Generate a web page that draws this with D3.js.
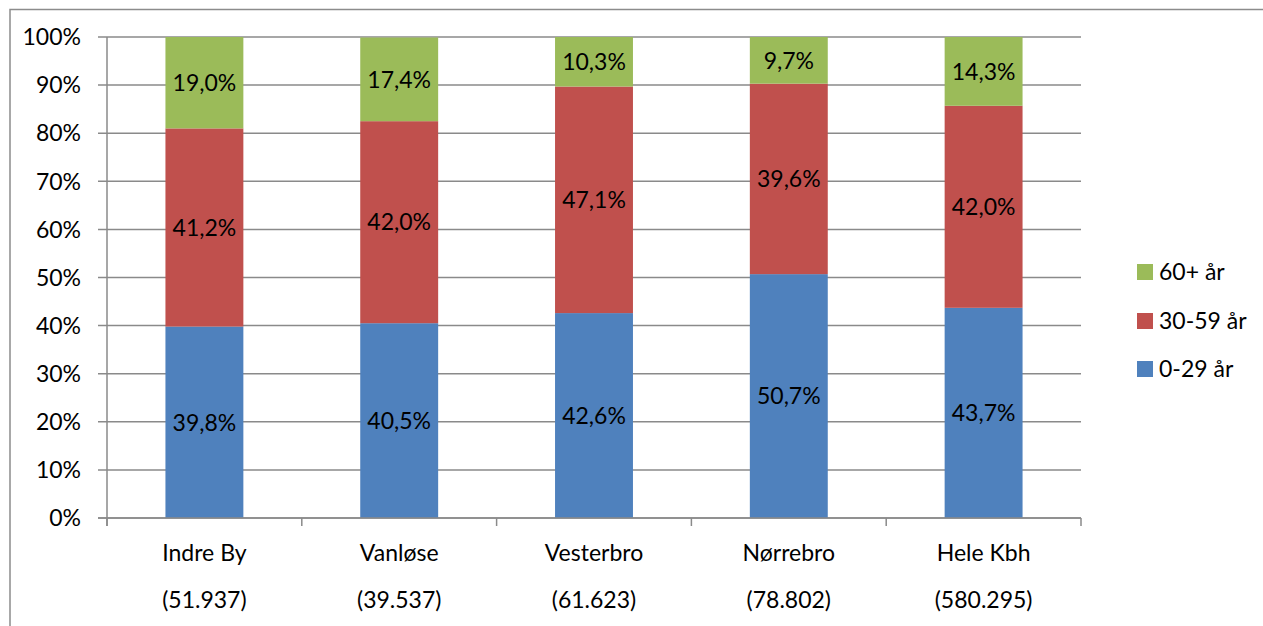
<!DOCTYPE html>
<html><head><meta charset="utf-8">
<script src="https://cdn.jsdelivr.net/npm/d3@7"></script>
<style>body{margin:0;background:#fff;}svg{display:block;font-family:Lato,"Open Sans",sans-serif;}</style>
</head><body>
<svg id="c" width="1263" height="626"></svg>
<script>
const categories = ["Indre By","Vanløse","Vesterbro","Nørrebro","Hele Kbh"];
const populations = ["(51.937)","(39.537)","(61.623)","(78.802)","(580.295)"];
const seriesNames = ["0-29 år","30-59 år","60+ år"];
const young = [39.8, 40.5, 42.6, 50.7, 43.7];
const middle = [41.2, 42.0, 47.1, 39.6, 42.0];
const old = [19.0, 17.4, 10.3, 9.7, 14.3];
const colors = ["#4F81BD","#C0504D","#9BBB59"];
const yTicks = [0,10,20,30,40,50,60,70,80,90,100];
const FS = 23;

const svg = d3.select("#c");
svg.append("rect").attr("x",10).attr("y",9.5).attr("width",1263).attr("height",640)
  .attr("fill","none").attr("stroke","#8c8c8c").attr("stroke-width",1.5);

const L=107, R=1081, T=37, B=518;
const x = d3.scaleBand().domain(categories).range([L,R]).paddingInner(0.6).paddingOuter(0.3);
const xb = d3.scaleBand().domain(categories).range([L,R]);
const y = d3.scaleLinear().domain([0,100]).range([B,T]);

svg.append("g").selectAll("line").data(yTicks).join("line")
  .attr("x1",98).attr("x2",R).attr("y1",d=>y(d)).attr("y2",d=>y(d))
  .attr("stroke","#8a8a8a").attr("stroke-width",1.5);
svg.append("g").selectAll("text").data(yTicks).join("text")
  .attr("x",81).attr("y",d=>y(d)).attr("dy","0.36em").attr("text-anchor","end")
  .attr("font-size",FS).attr("fill","#000").text(d=>d+"%");

const valuesBySeries = {"0-29 år":young,"30-59 år":middle,"60+ år":old};
const data = categories.map((c,i)=>({cat:c,idx:i,"0-29 år":young[i],"30-59 år":middle[i],"60+ år":old[i]}));
const stack = d3.stack().keys(seriesNames)(data);
const g = svg.append("g");
stack.forEach((s,si)=>{
  const key = seriesNames[si];
  g.selectAll(null).data(s).join("rect")
    .attr("x",d=>x(d.data.cat)).attr("width",x.bandwidth())
    .attr("y",d=>y(Math.min(d[1],100))).attr("height",d=>y(d[0])-y(Math.min(d[1],100)))
    .attr("fill",colors[si]);
  g.selectAll(null).data(s).join("text")
    .attr("x",d=>x(d.data.cat)+x.bandwidth()/2).attr("y",d=>y((d[0]+Math.min(d[1],100))/2)).attr("dy","0.36em")
    .attr("text-anchor","middle").attr("font-size",FS).attr("fill","#000")
    .text(d=>valuesBySeries[key][d.data.idx].toFixed(1).replace(".",",")+"%");
});

svg.append("line").attr("x1",L).attr("x2",L).attr("y1",T).attr("y2",B+8).attr("stroke","#8a8a8a").attr("stroke-width",1.5);
svg.append("line").attr("x1",98).attr("x2",R).attr("y1",B).attr("y2",B).attr("stroke","#8a8a8a").attr("stroke-width",1.5);
const bounds = categories.map(c=>xb(c)+xb.bandwidth()).concat([L]);
svg.append("g").selectAll("line").data(bounds).join("line")
  .attr("x1",d=>d).attr("x2",d=>d).attr("y1",B).attr("y2",B+8).attr("stroke","#8a8a8a").attr("stroke-width",1.5);
svg.append("g").selectAll("text").data(categories).join("text")
  .attr("x",d=>xb(d)+xb.bandwidth()/2).attr("y",553).attr("dy","0.36em").attr("text-anchor","middle")
  .attr("font-size",FS).text(d=>d);
svg.append("g").selectAll("text").data(populations).join("text")
  .attr("x",(d,i)=>xb(categories[i])+xb.bandwidth()/2).attr("y",600).attr("dy","0.36em").attr("text-anchor","middle")
  .attr("font-size",FS).text(d=>d);

const legendOrder = ["60+ år","30-59 år","0-29 år"];
const ly = [272,321,369];
const lg = svg.append("g");
legendOrder.forEach((n,i)=>{
  const ci = seriesNames.indexOf(n);
  lg.append("rect").attr("x",1137).attr("y",ly[i]-8).attr("width",16).attr("height",16).attr("fill",colors[ci]);
  lg.append("text").attr("x",1159).attr("y",ly[i]).attr("dy","0.36em").attr("font-size",FS).text(n);
});
</script>
</body></html>
